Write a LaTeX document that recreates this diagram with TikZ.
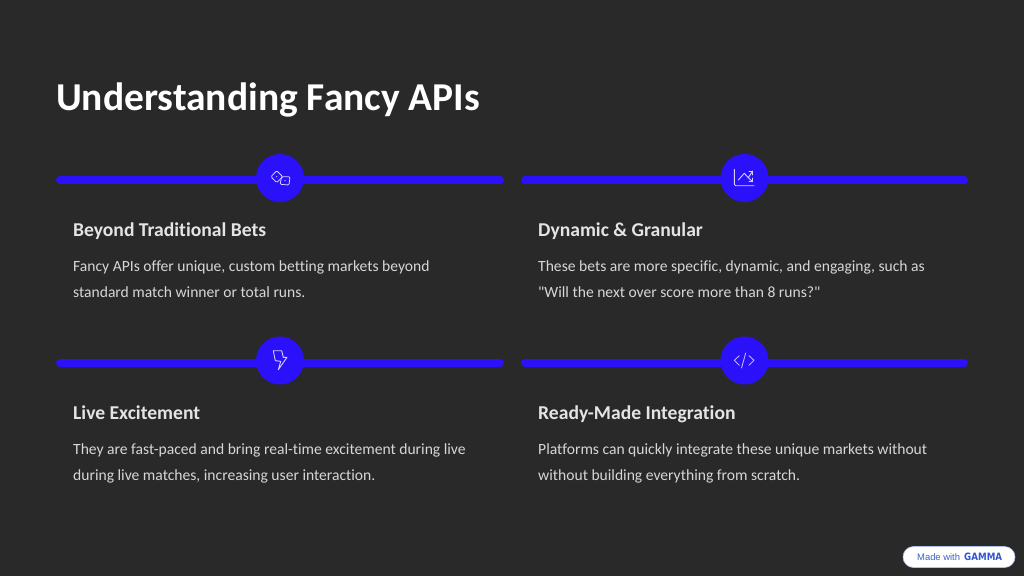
\documentclass[tikz,border=0pt]{standalone}
\usepackage{graphicx}
\usepackage{fontspec}
\newfontfamily\carl[Ligatures=NoCommon]{Carlito}
\newfontfamily\badgefont{Liberation Sans}
\newfontfamily\logofont{DejaVu Sans}
\definecolor{bgc}{HTML}{2A292A}
\definecolor{barc}{HTML}{2B10FA}
\definecolor{headc}{HTML}{E4E4E6}
\definecolor{bodyc}{HTML}{D6D6D8}
\definecolor{iconc}{HTML}{D5D0FF}
\definecolor{gamc}{HTML}{3A64C8}
\tikzset{
  x=1pt,y=-1pt,
  titletext/.style={anchor=base west,inner sep=0,text=white,font=\carl\fontsize{39.5}{42}\selectfont\bfseries},
  headtext/.style={anchor=base west,inner sep=0,text=headc,font=\carl\fontsize{19.6}{21}\selectfont\bfseries},
  bodytext/.style={anchor=base west,inner sep=0,text=bodyc,font=\carl\fontsize{15.6}{18}\selectfont},
  bar/.style={draw=barc,line width=8pt,line cap=round},
  disc/.style={circle,fill=barc,minimum size=48pt,inner sep=0},
  icon/.style={draw=iconc,line width=0.9pt,line cap=round,line join=round},
}
\begin{document}
\begin{tikzpicture}
\useasboundingbox (0,0) rectangle (1024,576);
\fill[bgc] (0,0) rectangle (1024,576);
\node[titletext] (title) at (56,110) {Understanding Fancy APIs};

% bars and discs
\coordinate (a1) at (60,180); \coordinate (a2) at (500,180);
\coordinate (b1) at (525,180); \coordinate (b2) at (964,180);
\coordinate (c1) at (60,362.5); \coordinate (c2) at (500,362.5);
\coordinate (d1) at (525,362.5); \coordinate (d2) at (964,362.5);
\draw[bar] (a1) -- (a2);
\draw[bar] (b1) -- (b2);
\draw[bar] (c1) -- (c2);
\draw[bar] (d1) -- (d2);
\node[disc] (da) at (280,178) {};
\node[disc] (db) at (744.5,178) {};
\node[disc] (dc) at (280,360.5) {};
\node[disc] (dd) at (744.5,360.5) {};

% dice icon
\begin{scope}[shift={(280,178)}]
\draw[icon,line width=.8pt,rounded corners=1.2pt] (-9,-1.3) -- (-3.3,-7.3) -- (2.7,-1.3) -- (-3.3,4.7) -- cycle;
\draw[icon,line width=.8pt,rounded corners=1.2pt] (1.7,-1.3) -- (10,-1.3) -- (9,7) -- (0,6.3) -- cycle;
\fill[iconc] (-3.3,-1.3) circle (.6);
\fill[iconc] (5,2.5) circle (.6);
\end{scope}
% chart icon
\begin{scope}[shift={(744.5,178)}]
\draw[icon,rounded corners=1.5pt] (-10.2,-8.7) -- (-10.2,7.7) -- (9.5,7.7);
\draw[icon] (-6.2,2) -- (-.2,-4.7) -- (3.8,-.3) -- (8.2,-7);
\draw[icon] (4.5,-7) -- (8.2,-7) -- (8.2,-3.2);
\draw[icon] (3.8,-.3) -- (8.2,3.7);
\draw[icon] (8.2,0) -- (8.2,3.7) -- (4.5,3.7);
\end{scope}
% bolt icon
\begin{scope}[shift={(280,360.5)}]
\draw[icon] (-6.7,-9.8) -- (1.7,-9.8) -- (3.3,-3.2) -- (7,-3.2) -- (-1.7,9.2) -- (.7,.8) -- (-4.7,.2) -- cycle;
\end{scope}
% code icon
\begin{scope}[shift={(744.5,360.5)}]
\draw[icon,draw=iconc!85!barc] (-5.2,-4.8) -- (-10.2,-.2) -- (-5.2,4.8);
\draw[icon,draw=iconc!85!barc] (4.5,-4.8) -- (9.5,-.2) -- (4.5,4.8);
\draw[icon,draw=iconc!85!barc] (1.2,-7.5) -- (-3,7.5);
\end{scope}

% card texts
\node[headtext] (h1) at (73,236) {Beyond Traditional Bets};
\node[bodytext] (t1a) at (73,271.5) {Fancy APIs offer unique, custom betting markets beyond};
\node[bodytext] (t1b) at (73,297) {standard match winner or total runs.};
\node[headtext] (h2) at (538,236) {Dynamic \& Granular};
\node[bodytext] (t2a) at (538,271.5) {These bets are more specific, dynamic, and engaging, such as};
\node[bodytext] (t2b) at (538,297) {"Will the next over score more than 8 runs?"};
\node[headtext] (h3) at (73,419) {Live Excitement};
\node[bodytext] (t3a) at (73,454) {They are fast-paced and bring real-time excitement during live};
\node[bodytext] (t3b) at (73,480) {during live matches, increasing user interaction.};
\node[headtext] (h4) at (538,419) {Ready-Made Integration};
\node[bodytext] (t4a) at (538,454) {Platforms can quickly integrate these unique markets without};
\node[bodytext] (t4b) at (538,480) {without building everything from scratch.};

% badge
\draw[fill=white,draw=gamc!40,line width=.6pt,rounded corners=10.5pt] (903,546.5) rectangle (1015,567.5);
\node[anchor=base west,inner sep=0,text=gamc,font=\badgefont\fontsize{9.4}{10}\selectfont] (made) at (917,560) {Made with};
\node[anchor=base west,inner sep=0,text=gamc!85!blue,font=\logofont\bfseries\fontsize{8.2}{9}\selectfont] (logo) at (964,560.3) {\resizebox{38pt}{7.5pt}{GAMMA}};
\end{tikzpicture}
\end{document}
